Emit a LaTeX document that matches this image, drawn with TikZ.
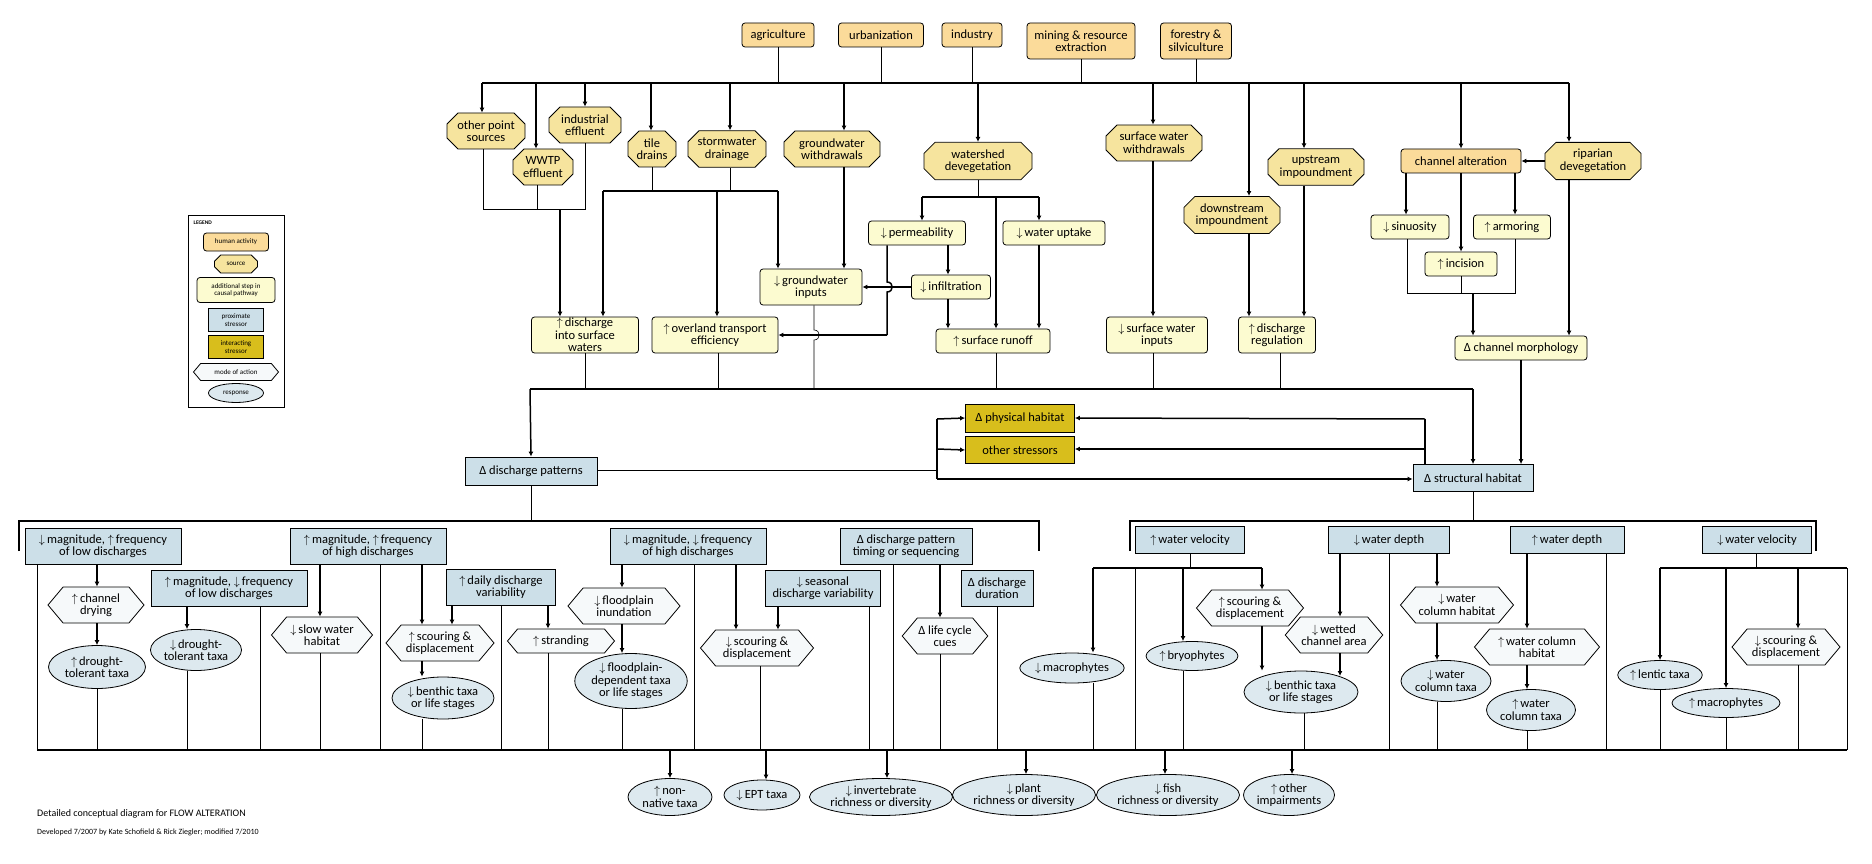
\documentclass[tikz,border=0pt]{standalone}
\usepackage{fontspec}
\setmainfont{Carlito}
\usetikzlibrary{arrows.meta,shapes.misc,shapes.symbols,shapes.geometric}
\definecolor{cact}{HTML}{FBDB9A}
\definecolor{csrc}{HTML}{F6E49E}
\definecolor{cstep}{HTML}{FCFBD0}
\definecolor{cprox}{HTML}{CCDFE8}
\definecolor{cint}{HTML}{D8BE1C}
\definecolor{cmode}{HTML}{F6F9FA}
\definecolor{cresp}{HTML}{DDE9EF}
\newcommand\myup{$\uparrow$\,}
\newcommand\mydn{$\downarrow$\,}
\tikzset{
 wh/.style 2 args={minimum width=#1pt,minimum height=#2pt},
 base/.style={draw,line width=0.8pt,align=center,inner sep=1pt,font=\fontsize{12.5}{12.5}\selectfont},
 act/.style={base,fill=cact,rounded corners=3pt},
 src/.style={base,fill=csrc,chamfered rectangle,chamfered rectangle xsep=5pt,chamfered rectangle ysep=6pt},
 stepbox/.style={base,fill=cstep,rounded corners=3pt},
 prox/.style={base,fill=cprox},
 inter/.style={base,fill=cint},
 mode/.style={base,fill=cmode,signal,signal to=east and west,signal pointer angle=100},
 resp/.style={base,fill=cresp,ellipse,inner sep=0pt},
 arr/.style={line width=1.5pt,-{Latex[length=5pt,width=5pt]}},
 tk/.style={line width=1.5pt},
 tn/.style={line width=0.6pt},
 lg/.style={font=\fontsize{7}{7.5}\selectfont,inner sep=0.5pt}
}
\begin{document}
\begin{tikzpicture}[x=1pt,y=-1pt]
\useasboundingbox[fill=white] (0,0) rectangle (1872,864);
% ---- human activities
\node[act,wh={72}{24}] (agri) at (778,35) {agriculture};
\node[act,wh={85}{24}] (urb) at (881,35) {urbanization};
\node[act,wh={60}{24}] (indu) at (972,35) {industry};
\node[act,wh={108}{36}] (mine) at (1081,41) {mining \& resource\\extraction};
\node[act,wh={71}{36}] (forest) at (1196,41) {forestry \&\\silviculture};
% ---- sources
\node[src,wh={78}{36}] (ops) at (486,131) {other point\\sources};
\node[src,wh={60}{36}] (wwtp) at (543,167) {WWTP\\effluent};
\node[src,wh={72}{36}] (ind) at (585,125) {industrial\\effluent};
\node[src,wh={48}{36}] (tile) at (652,149) {tile\\drains};
\node[src,wh={78}{36}] (storm) at (727,149) {stormwater\\drainage};
\node[src,wh={96}{36}] (gww) at (832,149) {groundwater\\withdrawals};
\node[src,wh={108}{36}] (wdev) at (978,161) {watershed\\devegetation};
\node[src,wh={96}{36}] (sww) at (1154,143) {surface water\\withdrawals};
\node[src,wh={96}{36}] (dimp) at (1232,215) {downstream\\impoundment};
\node[src,wh={96}{36}] (uimp) at (1316,167) {upstream\\impoundment};
\node[src,wh={96}{36}] (rip) at (1593,161) {riparian\\devegetation};
\node[act,wh={120}{24}] (chalt) at (1461,161) {channel alteration};
% ---- steps
\node[stepbox,wh={107}{36}] (dsw) at (585,335) {\myup discharge\\into surface\\waters};
\node[stepbox,wh={126}{36}] (ote) at (715,335) {\myup overland transport\\efficiency};
\node[stepbox,wh={102}{36}] (gwi) at (811,287) {\mydn groundwater\\inputs};
\node[stepbox,wh={97}{24}] (perm) at (917,233) {\mydn permeability};
\node[stepbox,wh={102}{24}] (wup) at (1054,233) {\mydn water uptake};
\node[stepbox,wh={79}{24}] (infl) at (951,287) {\mydn infiltration};
\node[stepbox,wh={114}{24}] (srun) at (993,341) {\myup surface runoff};
\node[stepbox,wh={101}{36}] (swi) at (1157,335) {\mydn surface water\\inputs};
\node[stepbox,wh={77}{36}] (dreg) at (1277,335) {\myup discharge\\regulation};
\node[stepbox,wh={78}{24}] (sin) at (1410,227) {\mydn sinuosity};
\node[stepbox,wh={77}{24}] (arm) at (1512,227) {\myup armoring};
\node[stepbox,wh={72}{24}] (inc) at (1461,264) {\myup incision};
\node[stepbox,wh={132}{24}] (chm) at (1521,348) {Δ channel morphology};
% ---- top bus
\draw[tk] (482,83) -- (1569,83);
\foreach \n in {agri,urb,indu,mine,forest} \draw[tn] (\n.south) -- (\n.south |- 0,83);
\foreach \x/\n in {482/ops,536/wwtp,585/ind,651/tile,730/storm,844/gww,978/wdev,1153/sww,1249/dimp,1304/uimp,1461/chalt,1569/rip}
  \draw[arr] (\x,83) -- (\x,0 |- \n.north);
% point sources bracket
\draw[tn] (483,0 |- ops.south) -- (483,209) -- (585,209) -- (ind.south);
\draw[tn] (537,0 |- wwtp.south) -- (537,209);
\draw[arr] (560,209) -- (560,0 |- dsw.north);
% tile / storm
\draw[tn] (tile.south) -- (652,191);
\draw[tn] (730,0 |- storm.south) -- (730,191);
\draw[tk] (603,191) -- (778,191);
\draw[arr] (603,191) -- (603,0 |- dsw.north);
\draw[arr] (717,191) -- (717,0 |- ote.north);
\draw[arr] (778,191) -- (778,0 |- gwi.north);
\draw[arr] (844,0 |- gww.south) -- (844,0 |- gwi.north);
% watershed devegetation
\draw[tn] (wdev.south) -- (978,197);
\draw[tk] (922,197) -- (1039,197);
\draw[arr] (922,197) -- (922,0 |- perm.north);
\draw[arr] (996,197) -- (996,0 |- srun.north);
\draw[arr] (1039,197) -- (1039,0 |- wup.north);
\draw[arr] (948,0 |- perm.south) -- (948,0 |- infl.north);
\draw[arr] (948,0 |- infl.south) -- (948,0 |- srun.north);
\draw[arr] (1039,0 |- wup.south) -- (1039,0 |- srun.north);
\draw[arr] (infl.west) -- (gwi.east);
\draw[tk] (887,0 |- perm.south) -- (887,282) .. controls (894,282) and (894,292) .. (887,292) -- (887,335);
\draw[arr] (887,335) -- (ote.east);
% lower bus
\draw[tk] (530,389) -- (1473,389);
\draw[tn] (dsw.south) -- (585,389);
\draw[tn] (718,0 |- ote.south) -- (718,389);
\draw[tn] (814,0 |- gwi.south) -- (814,330) .. controls (821,330) and (821,340) .. (814,340) -- (814,389);
\draw[tn] (996,0 |- srun.south) -- (996,389);
\draw[tn] (1153,0 |- swi.south) -- (1153,389);
\draw[tn] (1280,0 |- dreg.south) -- (1280,389);
\draw[arr] (1249,0 |- dimp.south) -- (1249,0 |- dreg.north);
\draw[arr] (1304,0 |- uimp.south) -- (1304,0 |- dreg.north);
\draw[arr] (1153,0 |- sww.south) -- (1153,0 |- swi.north);
% channel
\draw[arr] (rip.west) -- (chalt.east);
\draw[arr] (1406,0 |- chalt.south) -- (1406,0 |- sin.north);
\draw[arr] (1461,0 |- chalt.south) -- (1461,0 |- inc.north);
\draw[arr] (1515,0 |- chalt.south) -- (1515,0 |- arm.north);
\draw[tn] (1407,0 |- sin.south) -- (1407,293) -- (1515,293) -- (1515,0 |- arm.south);
\draw[tn] (inc.south) -- (1461,293);
\draw[arr] (1473,293) -- (1473,0 |- chm.north);
\draw[arr] (1569,0 |- rip.south) -- (1569,0 |- chm.north);
% ---- middle
\node[inter,wh={109}{28}] (ph) at (1020,418) {Δ physical habitat};
\node[inter,wh={109}{27}] (os) at (1020,450) {other stressors};
\node[prox,wh={132}{28}] (dp) at (531,471) {Δ discharge patterns};
\node[prox,wh={120}{27}] (sh) at (1473,478) {Δ structural habitat};
\draw[arr] (530,389) -- (dp.north);
\draw[arr] (1473,389) -- (sh.north);
\draw[arr] (1521,0 |- chm.south) -- (1521,0 |- sh.north);
\draw[tn] (dp.east |- 0,470) -- (937,470);
\draw[tk] (937,419) -- (937,479);
\draw[arr] (937,419) -- (ph.west);
\draw[arr] (937,449) -- (os.west);
\draw[arr] (937,479) -- (sh.west |- 0,479);
\draw[tk] (1425,0 |- sh.north) -- (1425,419);
\draw[arr] (1425,419) -- (ph.east);
\draw[arr] (1425,449) -- (os.east |- 0,449);
% ---- proximate row
\draw[tn] (dp.south) -- (531,521);
\draw[tk] (19,551) -- (19,521) -- (1039,521) -- (1039,551);
\draw[tn] (sh.south) -- (1473,521);
\draw[tk] (1130,551) -- (1130,521) -- (1816,521) -- (1816,551);
\node[prox,wh={156}{36}] (A) at (103,546) {\mydn magnitude, \myup frequency\\of low discharges};
\node[prox,wh={156}{36}] (B) at (368,546) {\myup magnitude, \myup frequency\\of high discharges};
\node[prox,wh={156}{36}] (C) at (688,546) {\mydn magnitude, \mydn frequency\\of high discharges};
\node[prox,wh={132}{36}] (D) at (906,546) {Δ discharge pattern\\timing or sequencing};
\node[prox,wh={156}{36}] (E) at (229,588) {\myup magnitude, \mydn frequency\\of low discharges};
\node[prox,wh={109}{36}] (F) at (501,587) {\myup daily discharge\\variability};
\node[prox,wh={115}{36}] (G) at (823,588) {\mydn seasonal\\discharge variability};
\node[prox,wh={72}{36}] (H) at (997,588) {Δ discharge\\duration};
\node[prox,wh={109}{27}] (wv1) at (1190,540) {\myup water velocity};
\node[prox,wh={121}{27}] (wd1) at (1389,540) {\mydn water depth};
\node[prox,wh={114}{27}] (wd2) at (1567,540) {\myup water depth};
\node[prox,wh={109}{27}] (wv2) at (1757,540) {\mydn water velocity};
% modes
\node[mode,wh={96}{36}] (m1) at (96,605) {\myup channel\\drying};
\node[mode,wh={101}{36}] (m2) at (322,635) {\mydn slow water\\habitat};
\node[mode,wh={108}{36}] (m3) at (440,643) {\myup scouring \&\\displacement};
\node[mode,wh={107}{24}] (m4) at (561,641) {\myup stranding};
\node[mode,wh={112}{36}] (m5) at (624,606) {\mydn floodplain\\inundation};
\node[mode,wh={113}{36}] (m6) at (757,648) {\mydn scouring \&\\displacement};
\node[mode,wh={80}{36}] (m7) at (945,636) {Δ life cycle\\cues};
\node[mode,wh={107}{36}] (m8) at (1250,608) {\myup scouring \&\\displacement};
\node[mode,wh={96}{36}] (m9) at (1334,635) {\mydn wetted\\channel area};
\node[mode,wh={113}{36}] (m10) at (1457,605) {\mydn water\\column habitat};
\node[mode,wh={125}{36}] (m11) at (1537,647) {\myup water column\\habitat};
\node[mode,wh={108}{36}] (m12) at (1786,647) {\mydn scouring \&\\displacement};
% responses
\node[resp,wh={97}{43}] (r1) at (97,667) {\myup drought-\\tolerant taxa};
\node[resp,wh={90}{41}] (r2) at (196,650) {\mydn drought-\\tolerant taxa};
\node[resp,wh={102}{42}] (r3) at (443,698) {\mydn benthic taxa\\or life stages};
\node[resp,wh={102}{55}] (r4) at (631,681) {\mydn floodplain-\\dependent taxa\\or life stages};
\node[resp,wh={102}{30}] (r5) at (1072,668) {\mydn macrophytes};
\node[resp,wh={90}{29}] (r6) at (1192,656) {\myup bryophytes};
\node[resp,wh={114}{42}] (r7) at (1301,692) {\mydn benthic taxa\\or life stages};
\node[resp,wh={90}{41}] (r8) at (1446,681) {\mydn water\\column taxa};
\node[resp,wh={89}{41}] (r9) at (1531,710) {\myup water\\column taxa};
\node[resp,wh={84}{29}] (r10) at (1660,675) {\myup lentic taxa};
\node[resp,wh={108}{29}] (r11) at (1726,703) {\myup macrophytes};
% outcomes
\node[resp,wh={84}{37}] (o1) at (670,797) {\myup non-\\native taxa};
\node[resp,wh={76}{30}] (o2) at (762,795) {\mydn EPT taxa};
\node[resp,wh={134}{37}] (o3) at (881,797) {\mydn invertebrate\\richness or diversity};
\node[resp,wh={138}{41}] (o4) at (1024,795) {\mydn plant\\richness or diversity};
\node[resp,wh={139}{41}] (o5) at (1168,795) {\mydn fish\\richness or diversity};
\node[resp,wh={90}{41}] (o6) at (1289,795) {\myup other\\impairments};
% ---- lower connections
\draw[tk] (37,750) -- (1847,750);
\foreach \x/\n in {37/A,97/r1,187/r2,260/E,320/m2,380/B,422/r3,501/F,548/m4,622/r4,694/C,760/m6,869/G,893/D,940/m7,997/H,1093/r5,1183/r6,1304/r7,1389/wd1,1437/r8,1527/r9,1606/wd2,1660/r10,1726/r11,1798/m12}
  \draw[tn] (\x,0 |- \n.south) -- (\x,750);
\draw[tn] (1135,568) -- (1135,750);
\draw[tn] (1847,568) -- (1847,750);
\foreach \x/\n in {670/o1,766/o2,887/o3,1026/o4,1165/o5,1292/o6}
  \draw[arr] (\x,750) -- (\x,0 |- \n.north);
\draw[arr] (97,0 |- A.south) -- (97,0 |- m1.north);
\draw[arr] (97,0 |- m1.south) -- (97,0 |- r1.north);
\draw[arr] (187,0 |- E.south) -- (187,0 |- r2.north);
\draw[arr] (320,0 |- B.south) -- (320,0 |- m2.north);
\draw[arr] (422,0 |- B.south) -- (422,0 |- m3.north);
\draw[arr] (452,0 |- F.south) -- (452,0 |- m3.north);
\draw[arr] (422,0 |- m3.south) -- (422,0 |- r3.north);
\draw[arr] (548,0 |- F.south) -- (548,0 |- m4.north);
\draw[arr] (622,0 |- C.south) -- (622,0 |- m5.north);
\draw[arr] (622,0 |- m5.south) -- (622,0 |- r4.north);
\draw[arr] (736,0 |- C.south) -- (736,0 |- m6.north);
\draw[arr] (778,0 |- G.south) -- (778,0 |- m6.north);
\draw[arr] (940,0 |- D.south) -- (940,0 |- m7.north);
\draw[tn] (wv1.south) -- (1190,568);
\draw[tk] (1093,568) -- (1262,568);
\draw[arr] (1093,568) -- (1093,0 |- r5.north);
\draw[arr] (1183,568) -- (1183,0 |- r6.north);
\draw[arr] (1262,568) -- (1262,0 |- m8.north);
\draw[arr] (1262,0 |- m8.south) -- (1262,0 |- r7.north);
\draw[arr] (1340,0 |- wd1.south) -- (1340,0 |- m9.north);
\draw[arr] (1340,0 |- m9.south) -- (1340,676);
\draw[arr] (1437,0 |- wd1.south) -- (1437,0 |- m10.north);
\draw[arr] (1437,0 |- m10.south) -- (1437,0 |- r8.north);
\draw[arr] (1527,0 |- wd2.south) -- (1527,0 |- m11.north);
\draw[arr] (1527,0 |- m11.south) -- (1527,0 |- r9.north);
\draw[tn] (1756,0 |- wv2.south) -- (1756,568);
\draw[tk] (1660,568) -- (1847,568);
\draw[arr] (1660,568) -- (1660,0 |- r10.north);
\draw[arr] (1726,568) -- (1726,0 |- r11.north);
\draw[arr] (1798,568) -- (1798,0 |- m12.north);
% ---- legend
\node[draw,line width=0.8pt,minimum width=96pt,minimum height=192pt,inner sep=0] (legend) at (236,311) {};
\node[lg,anchor=west,font=\fontsize{5.5}{5.5}\selectfont\bfseries] (lgt) at (193,223) {LEGEND};
\node[act,lg,draw,wh={65}{18}] (l1) at (236,242) {human activity};
\node[src,lg,draw,wh={43}{18},chamfered rectangle xsep=3pt,chamfered rectangle ysep=4pt] (l2) at (236,264) {source};
\node[stepbox,lg,draw,wh={78}{25}] (l3) at (236,290) {additional step in\\causal pathway};
\node[prox,lg,draw,wh={55}{23}] (l4) at (236,320) {proximate\\stressor};
\node[inter,lg,draw,wh={55}{23}] (l5) at (236,347) {interacting\\stressor};
\node[mode,lg,draw,wh={85}{17}] (l6) at (236,372) {mode of action};
\node[resp,lg,draw,wh={55}{19}] (l7) at (236,393) {response};
% ---- footnote
\node[anchor=west,inner sep=0,font=\fontsize{10}{10}\selectfont] (fn1) at (37,814) {Detailed conceptual diagram for FLOW ALTERATION};
\node[anchor=west,inner sep=0,font=\fontsize{8}{8}\selectfont] (fn2) at (37,832) {Developed 7/2007 by Kate Schofield \& Rick Ziegler; modified 7/2010};
\end{tikzpicture}
\end{document}
